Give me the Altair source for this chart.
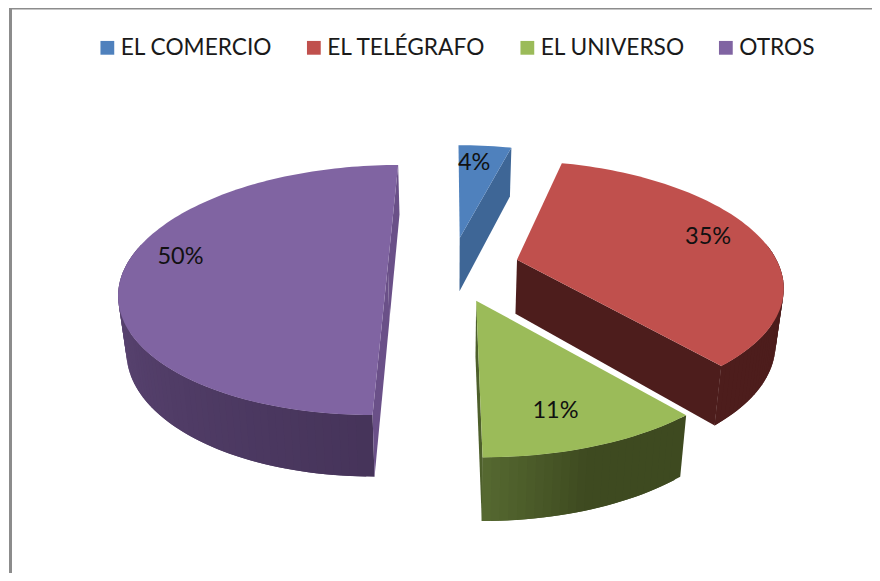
import math
import altair as alt

NAMES = ["EL COMERCIO", "EL TELÉGRAFO", "EL UNIVERSO", "OTROS"]
SHARES = [4, 35, 11, 50]
LABELS = ["4%", "35%", "11%", "50%"]
COLORS = ["#4f81bd", "#c0504d", "#9bbb59", "#8064a2"]
CUT_FACE = ["#3e6696", "#4d1d1c", "#4d5f2b", "#6a5088"]
# wall colour stops: (fraction along the slice's arc, colour)
WALL_STOPS = [
    [(0, "#3e6696"), (1, "#3e6696")],
    [(0, "#4d1d1c"), (1, "#4d1d1c")],
    [(0, "#3e4a20"), (0.5, "#3e4a20"), (1, "#586c32")],
    [(0, "#46345a"), (0.55, "#5f4878"), (1, "#715789")],
]
LABEL_PLACE = [(0.36, 0.78), (0.484, 0.80), (0.56, 0.78), (0.53, 0.81)]
EXPLODES = [0.245, 0.245, 0.29, 0.245]
RADII_Y = [1, 1, 0.945, 1]
RADII_X = [1, 1, 0.993, 1]
NUDGE_X = [0, 3, -3, 0]
VISIBLE_CUTS = [(1,), (1,), (1,), (0, 1)]

START = 0.0
CX, CY, AX, BY, PERSP = 452, 266, 262, 120.4, 0.192
BASE_SHRINK = 0.975
W, H = 864, 565
M = 8


def hex2rgb(c):
    return [int(c[i:i + 2], 16) for i in (1, 3, 5)]


def shade(stops, f):
    for (f0, c0), (f1, c1) in zip(stops, stops[1:]):
        if f <= f1:
            t = 0 if f1 == f0 else (f - f0) / (f1 - f0)
            a, b = hex2rgb(c0), hex2rgb(c1)
            return "#%02x%02x%02x" % tuple(round(x + (y - x) * t) for x, y in zip(a, b))
    return stops[-1][1]


spans = []
a = START
for v in SHARES:
    spans.append((a, a + v * 3.6))
    a += v * 3.6


def project(i, deg, r, lift=0):
    a0, a1 = spans[i]
    mid = math.radians((a0 + a1) / 2)
    t = math.radians(deg)
    X = EXPLODES[i] * math.sin(mid) + r * RADII_X[i] * math.sin(t)
    Y = EXPLODES[i] * math.cos(mid) + r * RADII_Y[i] * math.cos(t)
    s = 1 / (1 + PERSP * Y)
    thick = 24.5 + 30 * s
    k = BASE_SHRINK if lift else 1
    return [CX + AX * X * s * k - M + NUDGE_X[i], CY - BY * Y * s - M + lift * thick], Y


def feature(ring, **props):
    ring = [p for p in ring] + [ring[0]]
    return {"type": "Feature", "properties": props,
            "geometry": {"type": "Polygon", "coordinates": [ring]}}


walls, tops, texts = [], [], []
for i, name in enumerate(NAMES):
    a0, a1 = spans[i]
    n = max(4, int((a1 - a0) / 1.5))
    angs = [a0 + (a1 - a0) * k / n for k in range(n + 1)]
    parts = []
    for k in range(n):
        if math.cos(math.radians((angs[k] + angs[k + 1]) / 2)) > 0.15:
            continue
        # each band reaches over the next one so no seam of background shows
        next_ang = angs[min(k + 2, n)]
        p0, y0 = project(i, angs[k], 1)
        p1, y1 = project(i, next_ang, 1)
        q0, _ = project(i, angs[k], 1, 1)
        q1, _ = project(i, next_ang, 1, 1)
        col = shade(WALL_STOPS[i], (k + 0.5) / n)
        parts.append((k, feature([p0, p1, q1, q0], c=col)))
    parts.sort(key=lambda t: -t[0])
    ap, ay = project(i, 0, 0)
    aq, _ = project(i, 0, 0, 1)
    faces = []
    for which in VISIBLE_CUTS[i]:
        ang = spans[i][which]
        p, y = project(i, ang, 1)
        q, _ = project(i, ang, 1, 1)
        faces.append(feature([ap, p, q, aq], c=CUT_FACE[i]))
    walls += [f for _, f in parts] + faces
    ring = [ap] + [project(i, x, 1)[0] for x in angs]
    tops.append(feature(ring, name=name))
    f, r = LABEL_PLACE[i]
    pt, _ = project(i, a0 + (a1 - a0) * f, r)
    texts.append({"label": LABELS[i], "lon": pt[0], "lat": pt[1]})

geo = dict(type="identity", scale=1, translate=[0, 0])

wall_layer = (
    alt.Chart(alt.Data(values=walls))
    .mark_geoshape(strokeWidth=0, opacity=1, fillOpacity=1)
    .encode(fill=alt.Fill("properties.c:N", scale=None, legend=None))
    .project(**geo)
)

top_layer = (
    alt.Chart(alt.Data(values=tops))
    .mark_geoshape(strokeWidth=0, opacity=1)
    .encode(
        fill=alt.Fill(
            "properties.name:N",
            scale=alt.Scale(domain=NAMES, range=COLORS),
            legend=alt.Legend(
                title=None, orient="none", legendX=88, legendY=28,
                direction="horizontal", symbolType="square", symbolSize=190,
                symbolStrokeWidth=0, labelFont="Lato", labelFontSize=22.7,
                labelColor="#1a1a1a", labelOffset=2, columnPadding=29.5,
                labelLimit=300,
            ),
        )
    )
    .project(**geo)
)

text_layer = (
    alt.Chart(alt.Data(values=texts))
    .mark_text(font="Lato", fontSize=23.5, color="#111111", align="center", baseline="middle")
    .encode(longitude="lon:Q", latitude="lat:Q", text="label:N")
    .project(**geo)
)

left_border = alt.Chart(alt.Data(values=[{"a": 0}])).mark_rule(color="#8c8c8c", strokeWidth=3).encode(
    x=alt.value(2.5), y=alt.value(0), y2=alt.value(H))
top_border = alt.Chart(alt.Data(values=[{"a": 0}])).mark_rule(color="#8c8c8c", strokeWidth=3).encode(
    x=alt.value(1), x2=alt.value(W), y=alt.value(0))

chart = (
    alt.layer(left_border, top_border, wall_layer, top_layer, text_layer)
    .resolve_scale(fill="independent")
    .properties(width=W, height=H, padding=0, autosize=alt.AutoSizeParams(type="none"),
                background="white")
    .configure_view(stroke=None)
)

chart.save("out.html", embed_options={"renderer": "svg", "actions": False})
